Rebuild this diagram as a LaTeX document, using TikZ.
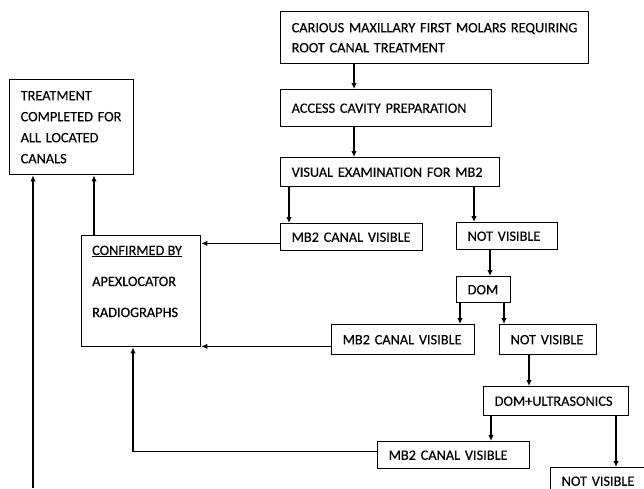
\documentclass[tikz,border=0pt]{standalone}
\usepackage{fontspec}
\setmainfont{Carlito}[FakeBold=0.3]
\usetikzlibrary{arrows.meta}
\begin{document}
\begin{tikzpicture}[x=1pt,y=-1pt,
  box/.style={draw, line width=1.4pt, anchor=north west, inner xsep=11pt, inner ysep=0pt, align=left, font=\fontsize{14.3}{20}\selectfont},
  txt/.style={anchor=base west, inner sep=0pt, font=\fontsize{14.3}{20}\selectfont},
  arr/.style={line width=1.2pt, -{Latex[length=6pt,width=5.5pt]}}]
\useasboundingbox (0,0) rectangle (644,488);
\clip (0,0) rectangle (644,488);
\node[box, text width=286pt, minimum height=52pt] (b1) at (280,11) {CARIOUS~MAXILLARY~FIRST~MOLARS~REQUIRING\\ROOT~CANAL~TREATMENT};
\node[box, text width=189pt, minimum height=37pt] (b2) at (280,89) {ACCESS~CAVITY~PREPARATION};
\node[box, text width=197pt, minimum height=29pt] (b3) at (280,157) {VISUAL~EXAMINATION~FOR~MB2};
\node[box, text width=120pt, minimum height=27pt] (m1) at (280,223) {MB2~CANAL~VISIBLE};
\node[box, text width=79pt, minimum height=27pt] (n1) at (456,222) {NOT~VISIBLE};
\node[box, text width=32pt, minimum height=26pt] (dom) at (456,276) {DOM};
\node[box, text width=121pt, minimum height=30pt] (m2) at (331,324) {MB2~CANAL~VISIBLE};
\node[box, text width=75pt, minimum height=30pt] (n2) at (499,324) {NOT~VISIBLE};
\node[box, text width=123pt, minimum height=29pt] (du) at (483,386) {DOM+ULTRASONICS};
\node[box, text width=130pt, minimum height=27pt] (m3) at (377,441) {MB2~CANAL~VISIBLE};
\node[box, text width=88pt, minimum height=27pt] (n3) at (550,467) {NOT~VISIBLE};
\node[box, text width=102pt, minimum height=95pt, font=\fontsize{14.3}{21}\selectfont] (treat) at (9,79) {TREATMENT\\COMPLETED~FOR\\ALL~LOCATED\\CANALS};
\node[draw, line width=1.4pt, anchor=north west, minimum width=119pt, minimum height=111pt, inner sep=0pt] (conf) at (81,235) {};
\node[txt] (ct1) at (92,255) {\underline{CONFIRMED BY}};
\node[txt] (ct2) at (92,286) {APEXLOCATOR};
\node[txt] (ct3) at (92,317) {RADIOGRAPHS};
% vertical arrows
\coordinate (s1) at ([xshift=74pt]b1.south west);
\coordinate (s2) at ([xshift=74pt]b2.south west);
\coordinate (s3) at ([xshift=9pt]b3.south west);
\coordinate (s4) at ([xshift=194pt]b3.south west);
\coordinate (s5) at ([xshift=34pt]n1.south west);
\coordinate (s6) at ([xshift=4pt]dom.south west);
\coordinate (s7) at ([xshift=48pt]dom.south west);
\coordinate (s8) at ([xshift=30pt]n2.south west);
\coordinate (s9) at ([xshift=8pt]du.south west);
\coordinate (s10) at ([xshift=133pt]du.south west);
\draw[arr] (s1) -- (s1 |- b2.north);
\draw[arr] (s2) -- (s2 |- b3.north);
\draw[arr] (s3) -- (s3 |- m1.north);
\draw[arr] (s4) -- (s4 |- n1.north);
\draw[arr] (s5) -- (s5 |- dom.north);
\draw[arr] (s6) -- (s6 |- m2.north);
\draw[arr] (s7) -- (s7 |- n2.north);
\draw[arr] (s8) -- (s8 |- du.north);
\draw[arr] (s9) -- (s9 |- m3.north);
\draw[arr] (s10) -- (s10 |- n3.north);
% back to confirmation
\coordinate (h1) at ([yshift=8pt]m1.south west);
\coordinate (h2) at ([yshift=9pt]m2.south west);
\coordinate (h3) at ([yshift=18pt]m3.south west);
\coordinate (c3) at ([xshift=52pt]conf.south west);
\draw[arr] (h1) -- (h1 -| conf.east);
\draw[arr] (h2) -- (h2 -| conf.east);
\draw[arr] (h3) -| (c3);
% to treatment completed
\coordinate (u1) at ([xshift=13pt]conf.north west);
\coordinate (bot) at (33,488);
\draw[arr] (u1) -- (u1 |- treat.south);
\draw[arr] (bot) -- (bot |- treat.south);
\end{tikzpicture}
\end{document}
